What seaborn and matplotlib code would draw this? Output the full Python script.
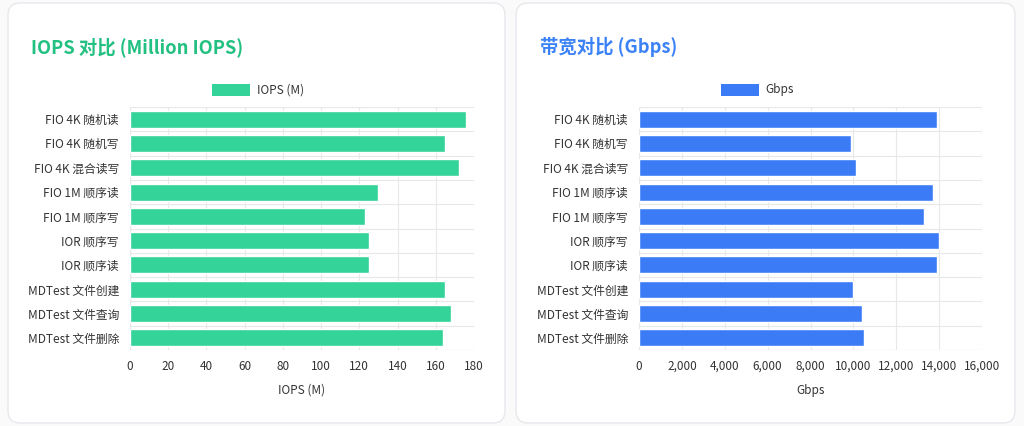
import matplotlib
matplotlib.use("Agg")
import matplotlib.pyplot as plt
import seaborn as sns
import numpy as np
from matplotlib.patches import FancyBboxPatch, Rectangle
from matplotlib.ticker import FuncFormatter

# 数据
categories = ['FIO 4K 随机读', 'FIO 4K 随机写', 'FIO 4K 混合读写', 'FIO 1M 顺序读', 'FIO 1M 顺序写',
              'IOR 顺序写', 'IOR 顺序读', 'MDTest 文件创建', 'MDTest 文件查询', 'MDTest 文件删除']
iops_m = [176, 165, 172, 130, 123, 125, 125, 165, 168, 164]
gbps = [13900, 9900, 10100, 13700, 13300, 14000, 13900, 10000, 10400, 10500]
iops_ticks = [0, 20, 40, 60, 80, 100, 120, 140, 160, 180]
gbps_ticks = [0, 2000, 4000, 6000, 8000, 10000, 12000, 14000, 16000]

sns.set_style("white")
plt.rcParams['font.family'] = ['Noto Sans CJK SC', 'DejaVu Sans']

W, H = 1024, 426
fig = plt.figure(figsize=(W / 100, H / 100), dpi=100)
fig.patch.set_facecolor('#fafafa')


def px_rect(x0, y0, x1, y1):
    # 像素坐标(左上原点) -> figure 坐标
    return [x0 / W, 1 - y1 / H, (x1 - x0) / W, (y1 - y0) / H]


# 卡片背景
for cx0, cx1 in [(8, 505), (516, 1015)]:
    card = FancyBboxPatch((cx0 / W, 1 - 423 / H), (cx1 - cx0) / W, (423 - 3) / H,
                          boxstyle="round,pad=0,rounding_size=0.012",
                          transform=fig.transFigure, facecolor='white',
                          edgecolor='#e6e8ec', linewidth=1.0, mutation_aspect=W / H,
                          zorder=-5)
    fig.patches.append(card)

grid_c = '#e8e8e8'
text_c = '#333333'


def draw_panel(x0, x1, values, ticks, color, title, title_color, series, fmt):
    ax = fig.add_axes(px_rect(x0, 107, x1, 350))
    ax.set_facecolor('none')
    sns.barplot(x=values, y=categories, orient='h', color=color, width=0.7,
                saturation=1, ax=ax, zorder=3)
    ax.set_xlim(ticks[0], ticks[-1])
    ax.set_ylim(len(categories) - 0.5, -0.5)
    ax.set_xticks(ticks)
    ax.xaxis.set_major_formatter(FuncFormatter(fmt))
    ax.set_yticks(np.arange(len(categories) + 1) - 0.5, minor=True)
    ax.grid(axis='x', which='major', color=grid_c, linewidth=0.8, zorder=0)
    ax.grid(axis='y', which='minor', color=grid_c, linewidth=0.8, zorder=0)
    ax.tick_params(axis='y', which='minor', length=7, color=grid_c, width=0.8)
    ax.tick_params(axis='y', which='major', length=0, pad=8, labelsize=8.5, labelcolor=text_c)
    ax.tick_params(axis='x', length=0, pad=7, labelsize=8.5, labelcolor=text_c)
    for side in ['top', 'right', 'bottom', 'left']:
        ax.spines[side].set_visible(False)
    ax.axvline(ticks[0], color=grid_c, linewidth=0.8, zorder=1)
    ax.axhline(len(categories) - 0.5, color=grid_c, linewidth=0.8, zorder=1)
    ax.set_xlabel(series, fontsize=8.5, color=text_c, labelpad=8)
    ax.set_ylabel('')
    # 标题
    fig.text((x0 - 99) / W, 1 - 47 / H, title, fontsize=13.2, fontweight='bold',
             color=title_color, va='center', ha='left')
    # 图例
    cx = (x0 + x1) / 2
    fig.patches.append(Rectangle(((cx - 90) / W, 1 - 96 / H), 38 / W, 12 / H,
                                 transform=fig.transFigure, facecolor=color, edgecolor='none'))
    fig.text((cx - 45) / W, 1 - 90 / H, series, fontsize=8.5, color=text_c,
             va='center', ha='left')
    return ax


draw_panel(130, 474, iops_m, iops_ticks, '#34d399', 'IOPS 对比 (Million IOPS)', '#22c081',
           'IOPS (M)', lambda v, p: f'{v:.0f}')
draw_panel(639, 982, gbps, gbps_ticks, '#3b7cf6', '带宽对比 (Gbps)', '#3b82f6',
           'Gbps', lambda v, p: f'{v:,.0f}')

fig.savefig('out.png', dpi=100, facecolor=fig.get_facecolor())
